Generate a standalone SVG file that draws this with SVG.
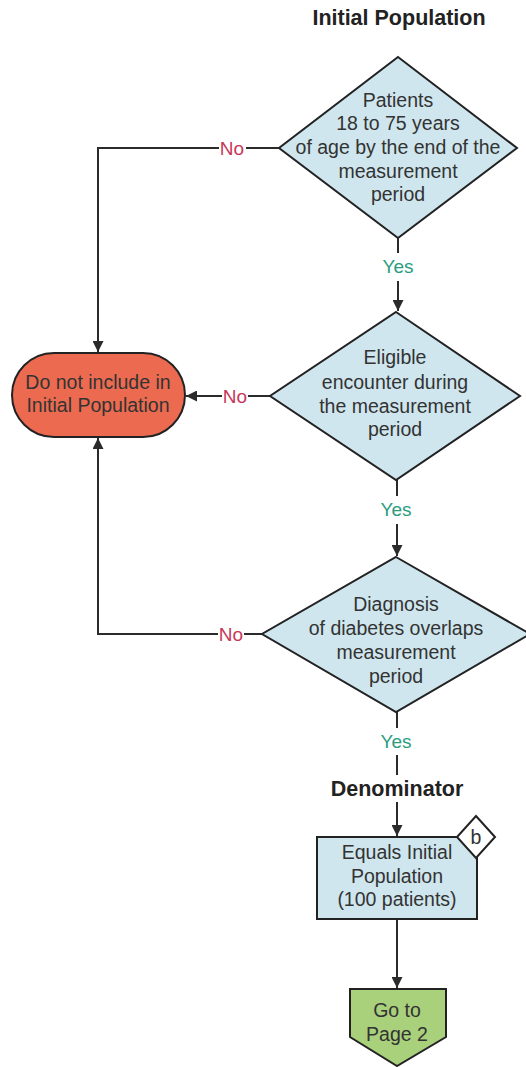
<svg xmlns="http://www.w3.org/2000/svg" width="526" height="1067" viewBox="0 0 526 1067">
<defs>
<marker id="ah" viewBox="0 0 10 10" refX="10" refY="5" markerWidth="11" markerHeight="11" markerUnits="userSpaceOnUse" orient="auto">
<path d="M0,0 L10,5 L0,10 z" fill="#2b2b2b"/>
</marker>
<style>
text{font-family:"Liberation Sans",Arial,sans-serif;font-size:19.5px;fill:#333;text-anchor:middle}
.t{font-weight:bold;font-size:21.5px;fill:#222}
.yes{fill:#2a9d80;font-size:19px}
.no{fill:#c8385a;font-size:19px}
.dia{fill:#cfe6ee;stroke:#222;stroke-width:2}
.ln{fill:none;stroke:#2b2b2b;stroke-width:2}
</style>
</defs>
<rect width="526" height="1067" fill="#fff"/>
<text class="t" x="399" y="25">Initial Population</text>
<text class="t" x="397" y="796">Denominator</text>
<g id="connectors">
<path class="ln" d="M398,238 V253"/>
<path class="ln" d="M398,281 V311" marker-end="url(#ah)"/>
<path class="ln" d="M279,148 H246"/>
<path class="ln" d="M219,148 H98 V352" marker-end="url(#ah)"/>
<path class="ln" d="M270,396 H248"/>
<path class="ln" d="M222,396 H186" marker-end="url(#ah)"/>
<path class="ln" d="M397,480 V496"/>
<path class="ln" d="M397,524 V556" marker-end="url(#ah)"/>
<path class="ln" d="M262,634 H244"/>
<path class="ln" d="M218,634 H98 V438" marker-end="url(#ah)"/>
<path class="ln" d="M397,712 V728"/>
<path class="ln" d="M397,755 V775"/>
<path class="ln" d="M397,802 V836" marker-end="url(#ah)"/>
<path class="ln" d="M397,919 V988" marker-end="url(#ah)"/>
<text class="yes" x="398" y="273">Yes</text>
<text class="no" x="232" y="155">No</text>
<text class="no" x="235" y="403">No</text>
<text class="yes" x="396" y="516">Yes</text>
<text class="no" x="231" y="641">No</text>
<text class="yes" x="396" y="748">Yes</text>
</g>
<g id="d1">
<polygon class="dia" points="398,57 517,148 398,238 279,148"/>
<text x="398" y="107">Patients</text>
<text x="398" y="130">18 to 75 years</text>
<text x="398" y="154">of age by the end of the</text>
<text x="398" y="178">measurement</text>
<text x="398" y="201">period</text>
</g>
<g id="d2">
<polygon class="dia" points="396,312 520,396 396,480 270,396"/>
<text x="395" y="364">Eligible</text>
<text x="395" y="389">encounter during</text>
<text x="395" y="413">the measurement</text>
<text x="395" y="436">period</text>
</g>
<g id="d3">
<polygon class="dia" points="396,557 530,634 396,712 262,634"/>
<text x="396" y="611">Diagnosis</text>
<text x="396" y="635">of diabetes overlaps</text>
<text x="396" y="659">measurement</text>
<text x="396" y="683">period</text>
</g>
<g id="exclude">
<rect x="12" y="353" width="173" height="84" rx="42" ry="42" fill="#ec6b50" stroke="#222" stroke-width="2"/>
<text x="98" y="389">Do not include in</text>
<text x="98" y="412">Initial Population</text>
</g>
<g id="denominator">
<rect x="317" y="837" width="160" height="82" fill="#cfe6ee" stroke="#222" stroke-width="2"/>
<text x="397" y="859">Equals Initial</text>
<text x="397" y="883">Population</text>
<text x="397" y="906">(100 patients)</text>
</g>
<g id="badge">
<polygon points="476,816 495,837 476,858 457,837" fill="#fff" stroke="#222" stroke-width="2"/>
<text x="476" y="844">b</text>
</g>
<g id="goto">
<polygon points="350,989 446,989 446,1037 397,1066 350,1037" fill="#a9d07b" stroke="#222" stroke-width="2"/>
<text x="397" y="1017">Go to</text>
<text x="397" y="1041">Page 2</text>
</g>
</svg>
